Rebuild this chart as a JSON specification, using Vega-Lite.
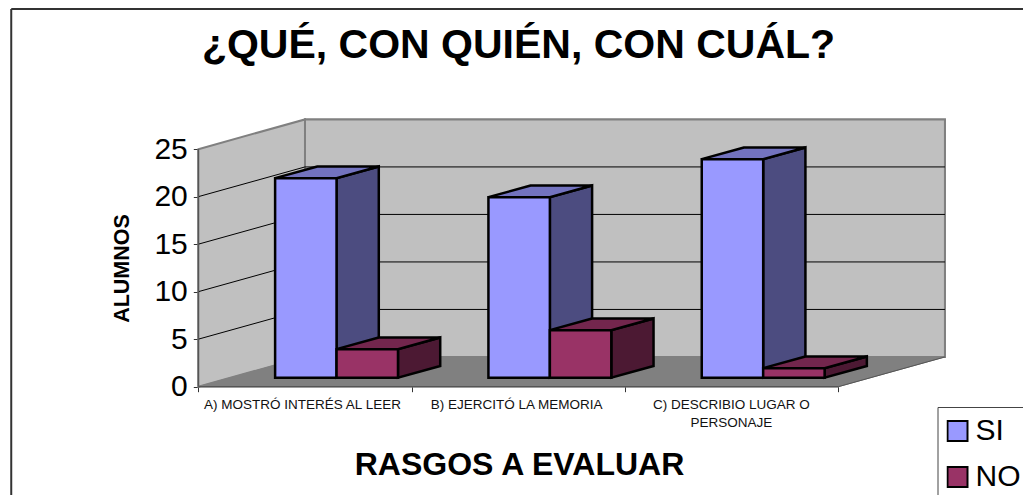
{
"$schema":"https://vega.github.io/schema/vega-lite/v6.json",
"width":1023,"height":495,"padding":0,"autosize":{"type":"none"},
"background":"white",
"config":{"view":{"stroke":null},"font":"Liberation Sans"},
"title":{"text":"¿QUÉ, CON QUIÉN, CON CUÁL?","font":"Liberation Sans","fontSize":41,"fontWeight":"bold","color":"#000","anchor":"middle","dx":7,"dy":67,"offset":0},
"resolve":{"axis":{"x":"independent","y":"independent"}},
"datasets":{
"plano":[{"k":0},{"k":1}],
"niveles":[{"v":5},{"v":10},{"v":15},{"v":20}]
},
"data":{"values":[
{"rasgo":"A) MOSTRÓ INTERÉS AL LEER","serie":"SI","alumnos":21},
{"rasgo":"A) MOSTRÓ INTERÉS AL LEER","serie":"NO","alumnos":3},
{"rasgo":"B) EJERCITÓ LA MEMORIA","serie":"SI","alumnos":19},
{"rasgo":"B) EJERCITÓ LA MEMORIA","serie":"NO","alumnos":5},
{"rasgo":"C) DESCRIBIO LUGAR O PERSONAJE","serie":"SI","alumnos":23},
{"rasgo":"C) DESCRIBIO LUGAR O PERSONAJE","serie":"NO","alumnos":1}
]},
"transform":[
{"calculate":"indexof(['A','B','C'],substring(datum.rasgo,0,1))","as":"cat"},
{"calculate":"[0,1]","as":"k"},
{"flatten":["k"]},
{"calculate":"datum.cat+0.36+(datum.serie=='NO'?0.288:0)+datum.k*0.198","as":"xa"},
{"calculate":"datum.xa+0.288","as":"xb"},
{"calculate":"0.95+datum.alumnos+datum.k*1.23","as":"arriba"},
{"calculate":"0.95+datum.k*1.23","as":"abajo"},
{"calculate":"datum.rasgo+datum.serie","as":"barra"}
],
"layer":[
{"data":{"name":"plano"},
 "mark":{"type":"rect","fill":"#C0C0C0","stroke":"#808080","strokeWidth":2},
 "encoding":{
  "x":{"datum":0.5,"type":"quantitative","scale":{"domain":[-0.9297,3.866],"nice":false,"zero":false},"axis":null},
  "x2":{"datum":3.5},
  "y":{"datum":3.13,"type":"quantitative","scale":{"domain":[-11.4,40.7],"nice":false,"zero":false},"axis":null},
  "y2":{"datum":28.13}
 }},
{"data":{"name":"plano"},
 "transform":[{"calculate":"datum.k*0.5","as":"px"},{"calculate":"datum.k*3.13","as":"py"},{"calculate":"25+datum.k*3.13","as":"pt"}],
 "mark":{"type":"area","fill":"#C0C0C0","stroke":"#808080","strokeWidth":2,"opacity":1},
 "encoding":{
  "x":{"field":"px","type":"quantitative","scale":{"domain":[-0.9297,3.866],"nice":false,"zero":false},
   "axis":{"orient":"bottom","offset":-108.3,"title":"RASGOS A EVALUAR","titleFont":"Liberation Sans","titleFontSize":32,"titleFontWeight":"bold","titleColor":"#000","titleX":519,"titleY":88,"titleAnchor":"middle","titleAlign":"center","titleBaseline":"alphabetic","titleLimit":500,
    "values":[0,0.486,1,1.49,2,2.497,3],"grid":false,"domain":false,"tickColor":"#333","tickSize":5,
    "tickOpacity":{"condition":{"test":"datum.value%1==0","value":1},"value":0},
    "labelExpr":"datum.value==0.486?'A) MOSTRÓ INTERÉS AL LEER':datum.value==1.49?'B) EJERCITÓ LA MEMORIA':datum.value==2.497?['C) DESCRIBIO LUGAR O','PERSONAJE']:''",
    "labelFont":"Liberation Sans","labelFontSize":13.5,"labelColor":"#111","labelPadding":6,"labelLimit":320,"labelOverlap":false,"labelBound":false,"labelFlush":false,"labelLineHeight":17.5}},
  "y":{"field":"pt","type":"quantitative","scale":{"domain":[-11.4,40.7],"nice":false,"zero":false},
   "axis":{"orient":"left","offset":-198.3,"title":"ALUMNOS","titleFont":"Liberation Sans","titleFontSize":21.5,"titleFontWeight":"bold","titleColor":"#000","titleX":-70,"titleY":268,"titleAngle":270,"titleAlign":"center","titleBaseline":"alphabetic",
    "values":[0,5,10,15,20,25],"grid":false,"domain":false,"tickColor":"#333","tickSize":5,"labelFont":"Liberation Sans","labelFontSize":30,"labelColor":"#000","labelPadding":6,"labelOverlap":false,"labelBound":false,"labelFlush":false}},
  "y2":{"field":"py"}
 }},
{"data":{"name":"plano"},
 "transform":[{"calculate":"datum.k*0.5","as":"px"},{"calculate":"3+datum.k*0.5","as":"pr"},{"calculate":"datum.k*3.13","as":"py"}],
 "mark":{"type":"area","orient":"horizontal","fill":"#808080","stroke":"#808080","strokeWidth":1,"opacity":1},
 "encoding":{
  "y":{"field":"py","type":"quantitative","scale":{"domain":[-11.4,40.7],"nice":false,"zero":false},"axis":null},
  "x":{"field":"px","type":"quantitative","scale":{"domain":[-0.9297,3.866],"nice":false,"zero":false},"axis":null},
  "x2":{"field":"pr"}
 }},
{"data":{"name":"niveles"},
 "transform":[{"calculate":"datum.v+3.13","as":"vf"}],
 "mark":{"type":"rule","color":"#000","strokeWidth":1},
 "encoding":{
  "x":{"datum":0,"type":"quantitative","scale":{"domain":[-0.9297,3.866],"nice":false,"zero":false},"axis":null},
  "x2":{"datum":0.5},
  "y":{"field":"v","type":"quantitative","scale":{"domain":[-11.4,40.7],"nice":false,"zero":false},"axis":null},
  "y2":{"field":"vf"}
 }},
{"data":{"name":"niveles"},
 "transform":[{"calculate":"datum.v+3.13","as":"vf"}],
 "mark":{"type":"rule","color":"#000","strokeWidth":1},
 "encoding":{
  "x":{"datum":0.5,"type":"quantitative","scale":{"domain":[-0.9297,3.866],"nice":false,"zero":false},"axis":null},
  "x2":{"datum":3.5},
  "y":{"field":"vf","type":"quantitative","scale":{"domain":[-11.4,40.7],"nice":false,"zero":false},"axis":null}
 }},
{"data":{"values":[{"a":1}]},
 "mark":{"type":"rule","color":"#555","strokeWidth":1.5},
 "encoding":{
  "x":{"datum":0,"type":"quantitative","scale":{"domain":[-0.9297,3.866],"nice":false,"zero":false},"axis":null},
  "y":{"datum":0,"type":"quantitative","scale":{"domain":[-11.4,40.7],"nice":false,"zero":false},"axis":null},
  "y2":{"datum":25}
 }},
{"data":{"values":[{"a":1}]},
 "mark":{"type":"rule","color":"#555","strokeWidth":1.5},
 "encoding":{
  "x":{"datum":0,"type":"quantitative","scale":{"domain":[-0.9297,3.866],"nice":false,"zero":false},"axis":null},
  "x2":{"datum":3},
  "y":{"datum":0,"type":"quantitative","scale":{"domain":[-11.4,40.7],"nice":false,"zero":false},"axis":null}
 }},
{"data":{"values":[{"a":1}]},
 "mark":{"type":"rule","color":"#555","strokeWidth":1},
 "encoding":{
  "x":{"datum":3,"type":"quantitative","scale":{"domain":[-0.9297,3.866],"nice":false,"zero":false},"axis":null},
  "x2":{"datum":3.5},
  "y":{"datum":0,"type":"quantitative","scale":{"domain":[-11.4,40.7],"nice":false,"zero":false},"axis":null},
  "y2":{"datum":3.13}
 }},
{"data":{"values":[{"a":1}]},
 "mark":{"type":"rule","color":"#333","strokeWidth":2},
 "encoding":{
  "x":{"datum":-0.877,"type":"quantitative","scale":{"domain":[-0.9297,3.866],"nice":false,"zero":false},"axis":null},
  "y":{"datum":39.76,"type":"quantitative","scale":{"domain":[-11.4,40.7],"nice":false,"zero":false},"axis":null},
  "y2":{"datum":-11.4}
 }},
{"data":{"values":[{"a":1}]},
 "mark":{"type":"rule","color":"#333","strokeWidth":2},
 "encoding":{
  "x":{"datum":-0.877,"type":"quantitative","scale":{"domain":[-0.9297,3.866],"nice":false,"zero":false},"axis":null},
  "x2":{"datum":3.866},
  "y":{"datum":39.76,"type":"quantitative","scale":{"domain":[-11.4,40.7],"nice":false,"zero":false},"axis":null}
 }},
{"transform":[{"filter":"datum.serie=='SI'"}],
 "mark":{"type":"area","fill":"#4C4C80","stroke":"#000","strokeWidth":2.5,"opacity":1},
 "encoding":{
  "detail":{"field":"barra"},
  "x":{"field":"xb","type":"quantitative","scale":{"domain":[-0.9297,3.866],"nice":false,"zero":false},"axis":null},
  "y":{"field":"arriba","type":"quantitative","scale":{"domain":[-11.4,40.7],"nice":false,"zero":false},"axis":null},
  "y2":{"field":"abajo"}
 }},
{"transform":[{"filter":"datum.serie=='SI'"}],
 "mark":{"type":"area","orient":"horizontal","fill":"#7373BF","stroke":"#000","strokeWidth":2.5,"opacity":1},
 "encoding":{
  "detail":{"field":"barra"},
  "y":{"field":"arriba","type":"quantitative","scale":{"domain":[-11.4,40.7],"nice":false,"zero":false},"axis":null},
  "x":{"field":"xa","type":"quantitative","scale":{"domain":[-0.9297,3.866],"nice":false,"zero":false},"axis":null},
  "x2":{"field":"xb"}
 }},
{"transform":[{"filter":"datum.serie=='SI' && datum.k==0"}],
 "mark":{"type":"rect","stroke":"#000","strokeWidth":2.5},
 "encoding":{
  "x":{"field":"xa","type":"quantitative","scale":{"domain":[-0.9297,3.866],"nice":false,"zero":false},"axis":null},
  "x2":{"field":"xb"},
  "y":{"field":"arriba","type":"quantitative","scale":{"domain":[-11.4,40.7],"nice":false,"zero":false},"axis":null},
  "y2":{"field":"abajo"},
  "color":{"field":"serie","type":"nominal","scale":{"domain":["SI","NO"],"range":["#9999FF","#993366"]},
   "legend":{"orient":"none","legendX":937.5,"legendY":407,"title":null,"symbolType":"square","symbolSize":400,"symbolStrokeColor":"#000","symbolStrokeWidth":2,"symbolOpacity":1,"symbolOffset":-4,"labelFont":"Liberation Sans","labelFontSize":30,"labelColor":"#000","labelOffset":3,"rowPadding":16,"padding":9,"strokeColor":"#444","fillColor":"#FFF","clipHeight":30}}
 }},
{"transform":[{"filter":"datum.serie=='NO'"}],
 "mark":{"type":"area","fill":"#4C1933","stroke":"#000","strokeWidth":2.5,"opacity":1},
 "encoding":{
  "detail":{"field":"barra"},
  "x":{"field":"xb","type":"quantitative","scale":{"domain":[-0.9297,3.866],"nice":false,"zero":false},"axis":null},
  "y":{"field":"arriba","type":"quantitative","scale":{"domain":[-11.4,40.7],"nice":false,"zero":false},"axis":null},
  "y2":{"field":"abajo"}
 }},
{"transform":[{"filter":"datum.serie=='NO'"}],
 "mark":{"type":"area","orient":"horizontal","fill":"#73264D","stroke":"#000","strokeWidth":2.5,"opacity":1},
 "encoding":{
  "detail":{"field":"barra"},
  "y":{"field":"arriba","type":"quantitative","scale":{"domain":[-11.4,40.7],"nice":false,"zero":false},"axis":null},
  "x":{"field":"xa","type":"quantitative","scale":{"domain":[-0.9297,3.866],"nice":false,"zero":false},"axis":null},
  "x2":{"field":"xb"}
 }},
{"transform":[{"filter":"datum.serie=='NO' && datum.k==0"}],
 "mark":{"type":"rect","stroke":"#000","strokeWidth":2.5},
 "encoding":{
  "x":{"field":"xa","type":"quantitative","scale":{"domain":[-0.9297,3.866],"nice":false,"zero":false},"axis":null},
  "x2":{"field":"xb"},
  "y":{"field":"arriba","type":"quantitative","scale":{"domain":[-11.4,40.7],"nice":false,"zero":false},"axis":null},
  "y2":{"field":"abajo"},
  "color":{"field":"serie","type":"nominal","scale":{"domain":["SI","NO"],"range":["#9999FF","#993366"]}}
 }}
]
}
